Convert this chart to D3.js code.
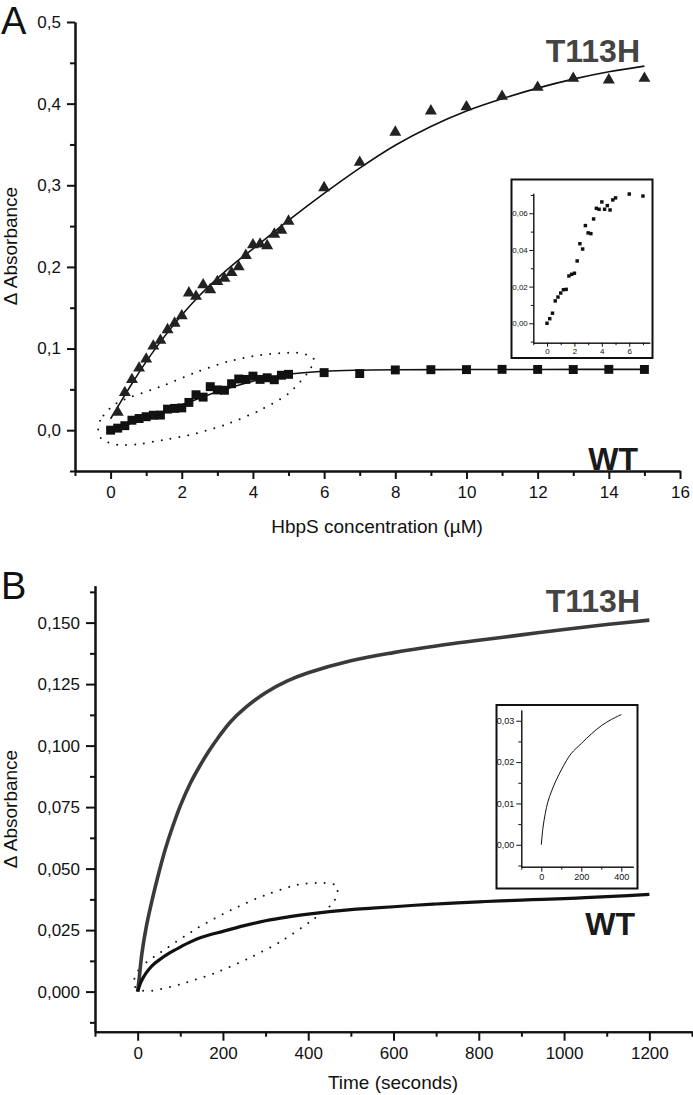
<!DOCTYPE html>
<html>
<head>
<meta charset="utf-8">
<script src="https://cdnjs.cloudflare.com/ajax/libs/d3/7.8.5/d3.min.js"></script>
<style>
    body { margin: 0; background: #fff; }
    svg { display: block; }
</style>
</head>
<body>
<svg id="chart" width="693" height="1095"></svg>
<script>

// ---------- panel A: titration (HbpS concentration, µM) ----------
var concWT = [0, 0.2, 0.4, 0.6, 0.8, 1.0, 1.2, 1.4, 1.6, 1.8, 2.0, 2.2, 2.4, 2.6, 2.8, 3.0, 3.2, 3.4, 3.6, 3.8,
    4.0, 4.2, 4.4, 4.6, 4.8, 5.0, 6, 7, 8, 9, 10, 11, 12, 13, 14, 15];
var absWT = [0, 0.0025, 0.0055, 0.0122, 0.0143, 0.0165, 0.0183, 0.0185, 0.0258, 0.0267, 0.0273, 0.034, 0.0434,
    0.0405, 0.0533, 0.0493, 0.0489, 0.0569, 0.0627, 0.0622, 0.0662, 0.0622, 0.0642, 0.0618, 0.0673, 0.0684,
    0.0705, 0.0694, 0.0738, 0.0741, 0.0742, 0.0745, 0.0744, 0.0743, 0.0745, 0.0744];

var concT113H = [0.2, 0.4, 0.6, 0.8, 1.0, 1.2, 1.4, 1.6, 1.8, 2.0, 2.2, 2.4, 2.6, 2.8, 3.0, 3.2, 3.4, 3.6, 3.8,
    4.0, 4.2, 4.4, 4.6, 4.8, 5.0, 6, 7, 8, 9, 10, 11, 12, 13, 14, 15];
var absT113H = [0.022, 0.046, 0.062, 0.076, 0.087, 0.103, 0.110, 0.123, 0.131, 0.140, 0.168, 0.164, 0.178, 0.172,
    0.182, 0.186, 0.193, 0.200, 0.214, 0.227, 0.228, 0.226, 0.240, 0.245, 0.256,
    0.297, 0.328, 0.365, 0.391, 0.396, 0.409, 0.420, 0.431, 0.429, 0.431];

// fitted curves
var fitConcT113H = [0, 0.5, 1, 1.5, 2, 2.5, 3, 3.5, 4, 5, 6, 7, 8, 9, 10, 11, 12, 13, 14, 15];
var fitAbsT113H = [0.014, 0.05, 0.084, 0.114, 0.141, 0.165, 0.186, 0.205, 0.222, 0.257, 0.290, 0.321,
    0.349, 0.372, 0.391, 0.406, 0.419, 0.430, 0.439, 0.446];
var fitConcWT = [0, 1, 2, 3, 4, 5, 6, 7, 8, 10, 12, 15];
var fitAbsWT = [0, 0.015, 0.031, 0.047, 0.060, 0.0685, 0.0722, 0.0735, 0.074, 0.0743, 0.0744, 0.0745];

// dotted loop around the low-concentration WT points
var loopConcA = [-0.35, -0.2, 0.25, 1.5, 2.4, 3.3, 4.2, 5.2, 5.7, 5.55, 5.0, 4.2, 3.3, 2.4, 1.6, 0.8, 0.2, -0.25];
var loopAbsA = [0.004, 0.018, 0.035, 0.055, 0.071, 0.084, 0.092, 0.095, 0.088, 0.071, 0.045, 0.0245, 0.008,
    -0.004, -0.011, -0.017, -0.018, -0.011];

var yTicksA = [0, 0.1, 0.2, 0.3, 0.4, 0.5];
var xTicksA = [0, 2, 4, 6, 8, 10, 12, 14, 16];
var yTicksInsetA = [0, 0.02, 0.04, 0.06];
var xTicksInsetA = [0, 2, 4, 6];

// ---------- panel B: kinetics (time, s) ----------
var timeT113H = [0, 4, 10, 21, 35, 50, 65, 80, 100, 123, 145, 166, 190, 217, 250, 300, 350, 400, 500, 600, 700,
    800, 900, 1000, 1100, 1200];
var kinT113H = [0, 0.006, 0.0155, 0.027, 0.038, 0.0485, 0.058, 0.066, 0.0755, 0.0845, 0.0915, 0.0975, 0.1035,
    0.1095, 0.115, 0.1215, 0.1262, 0.1296, 0.1345, 0.1378, 0.1405, 0.1428, 0.145, 0.1472, 0.1492, 0.151];

var timeWT = [0, 8, 20, 33, 50, 75, 100, 125, 150, 200, 250, 300, 350, 400, 450, 500, 550, 600, 650, 700, 750,
    800, 850, 900, 950, 1000, 1050, 1100, 1150, 1200];
var kinWT = [0, 0.004, 0.0076, 0.0104, 0.0128, 0.0157, 0.0181, 0.0203, 0.0221, 0.0245, 0.0268, 0.0288, 0.0303,
    0.0315, 0.0325, 0.0333, 0.0339, 0.0345, 0.0351, 0.0356, 0.0361, 0.0365, 0.0369, 0.0372, 0.0375, 0.0378,
    0.0382, 0.0386, 0.039, 0.0395];

var loopTimeB = [-10, 5, 50, 140, 220, 300, 375, 430, 468, 458, 405, 335, 260, 180, 100, 40, 10];
var loopAbsB = [0.003, 0.0095, 0.0155, 0.0258, 0.0332, 0.0393, 0.0434, 0.0442, 0.0428, 0.036, 0.0285, 0.0203,
    0.0135, 0.0075, 0.003, 0.0005, 0.0005];

var yTicksB = [0, 0.025, 0.05, 0.075, 0.1, 0.125, 0.15];
var xTicksB = [0, 200, 400, 600, 800, 1000, 1200];
var yTicksInsetB = [0, 0.01, 0.02, 0.03];
var xTicksInsetB = [0, 200, 400];


var FONT = '"Liberation Sans", Arial, Helvetica, sans-serif';
var INK = "#111";

var svg = d3.select("#chart");

// tick values between the major ones
function minorTicks(lo, hi, step) {
    return d3.range(Math.round((hi - lo) / step) + 1).map(function (i) { return +(lo + i * step).toFixed(6); });
}

// decimal comma, as in the original figure
function commaFormat(spec) {
    var f = d3.format(spec);
    return function (d) { return f(d).replace(".", ","); };
}

function styleAxis(sel, o) {
    sel.attr("font-family", FONT).attr("font-size", o.fontSize);
    sel.select(".domain").attr("stroke", INK).attr("stroke-width", o.lineWidth);
    sel.selectAll(".tick line").attr("stroke", INK).attr("stroke-width", o.lineWidth);
    sel.selectAll(".tick text").attr("fill", INK);
}

// left + bottom axes, Origin style (outward ticks, minor ticks without labels)
function drawAxes(g, x, y, o) {
    var xAxisY = y.range()[0];
    var yAxisX = x.range()[0];

    g.append("g")
        .attr("transform", "translate(0," + xAxisY + ")")
        .call(d3.axisBottom(x).tickValues(o.xMinor).tickSize(o.minor).tickSizeOuter(0).tickFormat(""))
        .call(styleAxis, o);
    g.append("g")
        .attr("transform", "translate(" + yAxisX + ",0)")
        .call(d3.axisLeft(y).tickValues(o.yMinor).tickSize(o.minor).tickSizeOuter(0).tickFormat(""))
        .call(styleAxis, o);

    g.append("g")
        .attr("transform", "translate(0," + xAxisY + ")")
        .call(d3.axisBottom(x).tickValues(o.xMajor).tickSize(o.major).tickPadding(o.xPad)
            .tickSizeOuter(0).tickFormat(o.xFormat))
        .call(styleAxis, o);
    g.append("g")
        .attr("transform", "translate(" + yAxisX + ",0)")
        .call(d3.axisLeft(y).tickValues(o.yMajor).tickSize(o.major).tickPadding(o.yPad)
            .tickSizeOuter(0).tickFormat(o.yFormat))
        .call(styleAxis, o);
}

function drawLoop(g, x, y, xs, ys) {
    var loop = d3.line()
        .x(function (d) { return x(d[0]); })
        .y(function (d) { return y(d[1]); })
        .curve(d3.curveCardinalClosed.tension(0.2));
    g.append("path")
        .datum(d3.zip(xs, ys))
        .attr("d", loop)
        .attr("fill", "none")
        .attr("stroke", INK)
        .attr("stroke-width", 2)
        .attr("stroke-linecap", "round")
        .attr("stroke-dasharray", "0,9");
}

function drawCurve(g, x, y, xs, ys, color, width) {
    var line = d3.line()
        .x(function (d) { return x(d[0]); })
        .y(function (d) { return y(d[1]); })
        .curve(d3.curveCatmullRom.alpha(0.5));
    g.append("path")
        .datum(d3.zip(xs, ys))
        .attr("d", line)
        .attr("fill", "none")
        .attr("stroke", color)
        .attr("stroke-width", width)
        .attr("stroke-linejoin", "round");
}

function drawSymbols(g, x, y, xs, ys, type, size, color) {
    g.selectAll(null)
        .data(d3.zip(xs, ys))
        .enter()
        .append("path")
        .attr("d", d3.symbol().type(type).size(size))
        .attr("transform", function (d) { return "translate(" + x(d[0]) + "," + y(d[1]) + ")"; })
        .attr("fill", color);
}

function label(g, text, x, y, o) {
    return g.append("text")
        .text(text)
        .attr("x", x)
        .attr("y", y)
        .attr("font-family", FONT)
        .attr("font-size", o.size)
        .attr("font-weight", o.weight || "normal")
        .attr("text-anchor", o.anchor || "start")
        .attr("fill", o.fill || INK);
}


// ================= panel A =================
var gA = svg.append("g");
var xA = d3.scaleLinear().domain([-1, 16]).range([75, 680]);
var yA = d3.scaleLinear().domain([-0.05, 0.5]).range([471, 22]);

drawLoop(gA, xA, yA, loopConcA, loopAbsA);
drawCurve(gA, xA, yA, fitConcT113H, fitAbsT113H, INK, 1.6);
drawCurve(gA, xA, yA, fitConcWT, fitAbsWT, INK, 1.6);
drawSymbols(gA, xA, yA, concT113H, absT113H, d3.symbolTriangle, 62, "#222");
drawSymbols(gA, xA, yA, concWT, absWT, d3.symbolSquare, 80, INK);

drawAxes(gA, xA, yA, {
    xMajor: xTicksA, xMinor: minorTicks(-1, 15, 2),
    yMajor: yTicksA, yMinor: minorTicks(-0.05, 0.45, 0.1),
    major: 8, minor: 5, xPad: 7, yPad: 6, lineWidth: 2, fontSize: 17,
    xFormat: d3.format("d"), yFormat: commaFormat(".1f")
});

label(gA, "A", 1, 34, { size: 38 });
label(gA, "T113H", 640, 62, { size: 32, weight: "bold", anchor: "end", fill: "#444" });
label(gA, "WT", 638, 470, { size: 32, weight: "bold", anchor: "end", fill: "#1a1a1a" });
label(gA, "HbpS concentration (µM)", 377, 533, { size: 19, anchor: "middle" });
label(gA, "Δ Absorbance", 0, 0, { size: 19, anchor: "middle" })
    .attr("transform", "translate(17,246) rotate(-90)");

// inset A: zoom on the WT points
var insA = gA.append("g");
insA.append("rect")
    .attr("x", 511.5).attr("y", 179.5).attr("width", 141).attr("height", 178.5)
    .attr("fill", "#fff").attr("stroke", INK).attr("stroke-width", 2);
var xIA = d3.scaleLinear().domain([-1, 7.5]).range([533.3, 649.8]);
var yIA = d3.scaleLinear().domain([-0.0106, 0.0709]).range([342.7, 193.3]);
var insetConc = concWT.filter(function (c) { return c <= 7; });
drawSymbols(insA, xIA, yIA, insetConc, absWT.slice(0, insetConc.length), d3.symbolSquare, 12, INK);
drawAxes(insA, xIA, yIA, {
    xMajor: xTicksInsetA, xMinor: minorTicks(-1, 7, 2),
    yMajor: yTicksInsetA, yMinor: minorTicks(-0.01, 0.07, 0.02),
    major: 4, minor: 2.5, xPad: 2, yPad: 1.5, lineWidth: 1, fontSize: 8,
    xFormat: d3.format("d"), yFormat: commaFormat(".2f")
});


// ================= panel B =================
var gB = svg.append("g");
var xB = d3.scaleLinear().domain([-100, 1300]).range([95, 692]);
var yB = d3.scaleLinear().domain([-0.0163, 0.165]).range([1031.7, 585.7]);

drawLoop(gB, xB, yB, loopTimeB, loopAbsB);
drawCurve(gB, xB, yB, timeT113H, kinT113H, "#3a3a3a", 3.6);
drawCurve(gB, xB, yB, timeWT, kinWT, INK, 3.2);

drawAxes(gB, xB, yB, {
    xMajor: xTicksB, xMinor: minorTicks(-100, 1300, 200),
    yMajor: yTicksB, yMinor: minorTicks(-0.0125, 0.1625, 0.025),
    major: 9, minor: 5, xPad: 6, yPad: 6, lineWidth: 2, fontSize: 17,
    xFormat: d3.format("d"), yFormat: commaFormat(".3f")
});

label(gB, "B", 1, 599, { size: 38 });
label(gB, "T113H", 640, 612, { size: 32, weight: "bold", anchor: "end", fill: "#444" });
label(gB, "WT", 635, 935, { size: 32, weight: "bold", anchor: "end", fill: "#1a1a1a" });
label(gB, "Time (seconds)", 393, 1089, { size: 19, anchor: "middle" });
label(gB, "Δ Absorbance", 0, 0, { size: 19, anchor: "middle" })
    .attr("transform", "translate(17,809) rotate(-90)");

// inset B: first 400 s of the WT trace
var insB = gB.append("g");
insB.append("rect")
    .attr("x", 496.5).attr("y", 705).attr("width", 141).attr("height", 183.5)
    .attr("fill", "#fff").attr("stroke", INK).attr("stroke-width", 2);
var xIB = d3.scaleLinear().domain([-100, 460]).range([521.3, 633.3]);
var yIB = d3.scaleLinear().domain([-0.0053, 0.0326]).range([866.7, 710]);
var nInset = timeWT.filter(function (t) { return t <= 400; }).length;
drawCurve(insB, xIB, yIB, timeWT.slice(0, nInset), kinWT.slice(0, nInset), INK, 1);
drawAxes(insB, xIB, yIB, {
    xMajor: xTicksInsetB, xMinor: [-100, 100, 300],
    yMajor: yTicksInsetB, yMinor: [-0.005, 0.005, 0.015, 0.025],
    major: 5, minor: 3, xPad: 2, yPad: 2, lineWidth: 1, fontSize: 9,
    xFormat: d3.format("d"), yFormat: commaFormat(".2f")
});

</script>
</body>
</html>
